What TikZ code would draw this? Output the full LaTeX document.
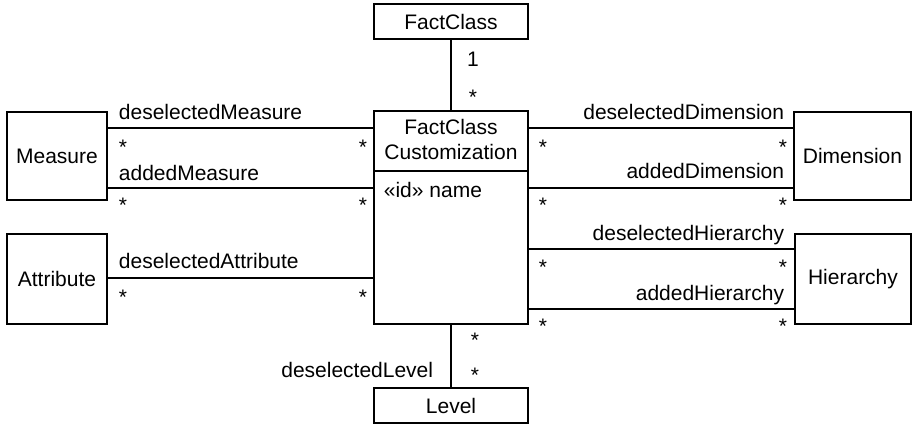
\documentclass[tikz,border=0pt]{standalone}
\usepackage{fontspec}
\setmainfont{Liberation Sans}
\begin{document}
\begin{tikzpicture}[x=1pt,y=-1pt,line width=1.8pt,
  every node/.style={font=\fontsize{21}{25}\selectfont},
  cls/.style={draw,line width=1.8pt,inner sep=0pt,align=center},
  lbl/.style={inner sep=0pt},
  mult/.style={inner sep=0pt,anchor=base}]
\useasboundingbox (0,0) rectangle (912,424);
% classes
\node[cls,minimum width=154pt,minimum height=35pt] (fc) at (451,21.5) {FactClass};
\node[cls,minimum width=154pt,minimum height=213pt] (main) at (451,217.5) {};
\draw (main.west |- 0,171) -- (main.east |- 0,171);
\node[lbl,align=center] (mainname) at (451,139) {FactClass\\Customization};
\node[lbl,anchor=base west] (mainattr) at (383,197) {«id» name};
\node[cls,minimum width=154pt,minimum height=35pt] (lvl) at (451,405.5) {Level};
\node[cls,minimum width=100pt,minimum height=88pt] (meas) at (57,156) {Measure};
\node[cls,minimum width=100pt,minimum height=90pt] (attrb) at (57,279) {Attribute};
\node[cls,minimum width=117pt,minimum height=88pt] (dim) at (852.5,156) {Dimension};
\node[cls,minimum width=116pt,minimum height=90pt] (hier) at (853,279) {Hierarchy};
% connectors
\draw (fc) -- (main);
\draw (main) -- (lvl);
\draw (meas.east |- 0,128) -- (main.west |- 0,128);
\draw (meas.east |- 0,188) -- (main.west |- 0,188);
\draw (attrb.east |- 0,278) -- (main.west |- 0,278);
\draw (main.east |- 0,128) -- (dim.west |- 0,128);
\draw (main.east |- 0,188) -- (dim.west |- 0,188);
\draw (main.east |- 0,249) -- (hier.west |- 0,249);
\draw (main.east |- 0,309) -- (hier.west |- 0,309);
% role names
\node[lbl,anchor=base west] (rdm) at (118,119) {deselectedMeasure};
\node[lbl,anchor=base west] (ram) at (118,180) {addedMeasure};
\node[lbl,anchor=base west] (rda) at (118,268) {deselectedAttribute};
\node[lbl,anchor=base east] (rdd) at (785,119) {deselectedDimension};
\node[lbl,anchor=base east] (rad) at (785,178) {addedDimension};
\node[lbl,anchor=base east] (rdh) at (785,240) {deselectedHierarchy};
\node[lbl,anchor=base east] (rah) at (785,300) {addedHierarchy};
\node[lbl,anchor=base east] (rdl) at (434,377) {deselectedLevel};
% multiplicities
\node[mult] (m1) at (473,66) {1};
\node[mult] (m2) at (473,104) {*};
\node[mult] (m3) at (123,154) {*};
\node[mult] (m4) at (363,154) {*};
\node[mult] (m5) at (123,212) {*};
\node[mult] (m6) at (363,212) {*};
\node[mult] (m7) at (123,304) {*};
\node[mult] (m8) at (363,304) {*};
\node[mult] (m9) at (543,154) {*};
\node[mult] (m10) at (783,154) {*};
\node[mult] (m11) at (543,212) {*};
\node[mult] (m12) at (783,212) {*};
\node[mult] (m13) at (543,274) {*};
\node[mult] (m14) at (783,274) {*};
\node[mult] (m15) at (543,333) {*};
\node[mult] (m16) at (783,333) {*};
\node[mult] (m17) at (475,347) {*};
\node[mult] (m18) at (475,382) {*};
\end{tikzpicture}
\end{document}
